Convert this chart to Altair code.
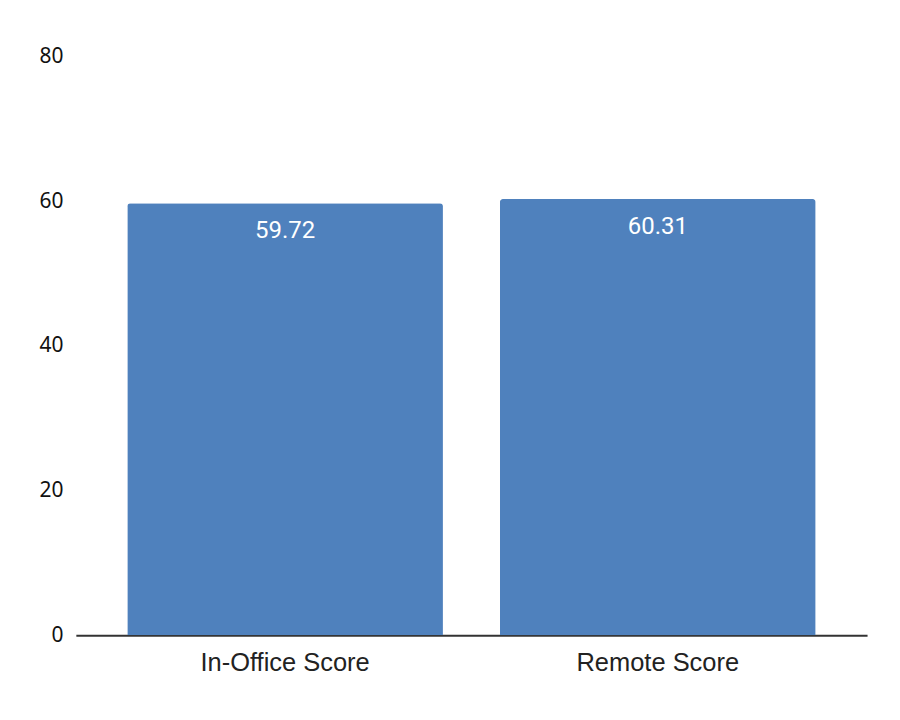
import altair as alt
import pandas as pd

categories = ["In-Office Score", "Remote Score"]
values = [59.72, 60.31]
labels = ["59.72", "60.31"]

df = pd.DataFrame({"category": categories, "value": values, "label": labels})

x = alt.X("category:N", sort=categories, title=None,
          scale=alt.Scale(paddingInner=0.153, paddingOuter=0.138),
          axis=alt.Axis(labelAngle=0, labelFont="Liberation Sans", labelFontSize=25.5, labelColor="#222222",
                        labelPadding=15, ticks=False, domainColor="#333333", domainWidth=2))
y = alt.Y("value:Q", title=None,
          scale=alt.Scale(domain=[0, 80], nice=False),
          axis=alt.Axis(values=[0, 20, 40, 60, 80], grid=False, domain=False, ticks=False,
                        labelFont="Noto Sans", labelFontSize=21, labelColor="#111111",
                        labelPadding=13))

bars = alt.Chart(df).mark_bar(color="#4F81BD", cornerRadiusTopLeft=3, cornerRadiusTopRight=3).encode(x=x, y=y)
text = alt.Chart(df).mark_text(color="white", font="Roboto", fontSize=24, baseline="middle", dy=28).encode(
    x=alt.X("category:N", sort=categories), y="value:Q", text="label:N")

chart = (bars + text).properties(
    width=793, height=580,
    background="white",
    autosize=alt.AutoSizeParams(type="none"),
    padding={"left": 68, "top": 48, "right": 25, "bottom": 60},
).configure_view(strokeWidth=0, stroke="transparent")

chart.save("out.html", embed_options={"renderer": "svg", "actions": False})
